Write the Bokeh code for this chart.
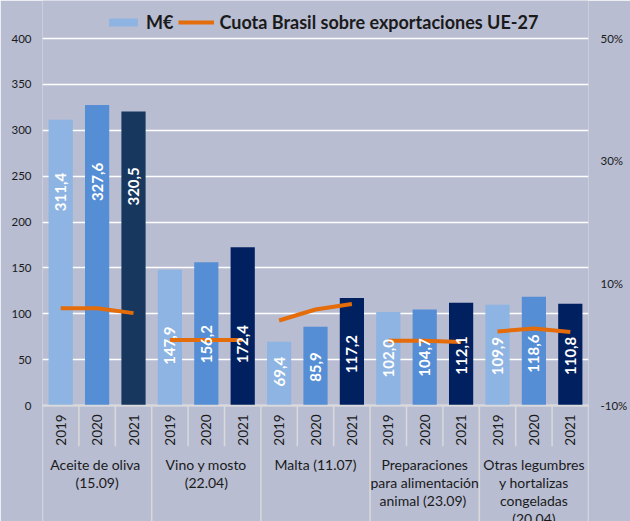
import numpy as np
from bokeh.plotting import figure
from bokeh.models import (ColumnDataSource, FactorRange, Range1d, LinearAxis, FixedTicker,
                          PrintfTickFormatter, Legend, LegendItem)
from bokeh.core.properties import value
from bokeh.embed import file_html
from bokeh.resources import INLINE

# ---------------- data ----------------
grupos = ["Aceite de  oliva\n(15.09)",
          "Vino y mosto\n(22.04)",
          "Malta (11.07)",
          "Preparaciones\npara alimentación\nanimal  (23.09)",
          "Otras legumbres\ny hortalizas\ncongeladas\n(20.04)"]
anios = ["2019", "2020", "2021"]

meur_aceite = [311.4, 327.6, 320.5]
meur_vino = [147.9, 156.2, 172.4]
meur_malta = [69.4, 85.9, 117.2]
meur_preparaciones = [102.0, 104.7, 112.1]
meur_otras = [109.9, 118.6, 110.8]

cuota_aceite = [5.9, 5.9, 5.1]
cuota_vino = [0.7, 0.7, 0.7]
cuota_malta = [3.9, 5.7, 6.6]
cuota_preparaciones = [0.6, 0.6, 0.4]
cuota_otras = [2.1, 2.6, 2.0]

ticks_meur = [0, 50, 100, 150, 200, 250, 300, 350, 400]
ticks_cuota = [-10, 10, 30, 50]

serie_label = "M€"
linea_label = "Cuota Brasil sobre exportaciones UE-27"

# ---------------- styling ----------------
BG = "#b8bdd2"
TXT = "#1a1a1a"
year_colors = ["#8db4e2", "#558ed5", "#002060"]
dark_first = "#17375e"
ORANGE = "#e46c0a"
SEP = "#dadada"
FONT = "Lato"

meur = [meur_aceite, meur_vino, meur_malta, meur_preparaciones, meur_otras]
cuota = [cuota_aceite, cuota_vino, cuota_malta, cuota_preparaciones, cuota_otras]

factors = [(g, a) for g in grupos for a in anios]

# the frame spans the whole height; the value axes cover only part of it
W, H = 630, 521
span_px = 367.0
top_px = 38.0
bot_px = H - top_px - span_px
ymax = 400.0
y_range = Range1d(-ymax * bot_px / span_px, ymax + ymax * top_px / span_px)
pct_range = Range1d(-10 - 60 * bot_px / span_px, 50 + 60 * top_px / span_px)

p = figure(width=W, height=H,
           x_range=FactorRange(factors=factors, range_padding=0, group_padding=0,
                               factor_padding=0, subgroup_padding=0),
           y_range=y_range, x_axis_location=None,
           toolbar_location=None, output_backend="svg",
           min_border_left=42, min_border_right=38, min_border_top=0, min_border_bottom=0,
           background_fill_color=BG, border_fill_color=BG, outline_line_color=None)
p.extra_y_ranges = {"pct": pct_range}

p.xgrid.grid_line_color = None
p.ygrid.grid_line_color = "white"
p.ygrid.grid_line_width = 1.6

ya = p.yaxis[0]
ya.ticker = FixedTicker(ticks=ticks_meur)
ya.axis_line_color = None
ya.major_tick_line_color = None
ya.minor_tick_line_color = None
ya.major_tick_out = 0
ya.major_tick_in = 0
ya.minor_tick_out = 0
ya.major_label_standoff = 11
ya.major_label_text_font = FONT
ya.major_label_text_font_size = "11.5px"
ya.major_label_text_color = TXT

ra = LinearAxis(y_range_name="pct", ticker=FixedTicker(ticks=ticks_cuota),
                formatter=PrintfTickFormatter(format="%d%%"),
                axis_line_color=None, major_tick_line_color=None, minor_tick_line_color=None,
                major_tick_out=0, major_tick_in=0, minor_tick_out=0,
                major_label_standoff=12, major_label_text_font=FONT,
                major_label_text_font_size="11.5px", major_label_text_color=TXT)
p.add_layout(ra, "right")

# bars
xs, vals, cols, lbls, lys = [], [], [], [], []
for gi, g in enumerate(grupos):
    for yi, a in enumerate(anios):
        v = meur[gi][yi]
        xs.append((g, a))
        vals.append(v)
        c = year_colors[yi]
        if yi == 2 and gi == 0:
            c = dark_first
        cols.append(c)
        lbls.append(f"{v:.1f}".replace(".", ","))
        lys.append(v * 0.68 if v > 200 else min(v * 0.3, 46))

src = ColumnDataSource(dict(x=xs, v=vals, color=cols, lbl=lbls, ly=lys))
bars = p.vbar(x="x", top="v", width=0.665, fill_color="color", line_color=None, source=src)

# separators below the axis
bottom = y_range.start
sx0, sy1 = [], []
for gi, g in enumerate(grupos):
    for yi, a in enumerate(anios):
        sx0.append((g, a, -0.5))
        sy1.append(bottom if yi == 0 else -44.4)
sx0.append((grupos[-1], anios[-1], 0.5))
sy1.append(bottom)
p.segment(x0=sx0, x1=sx0, y0=[0] * len(sx0), y1=sy1, line_color=SEP, line_width=1.5)
p.segment(x0=[factors[0] + (-0.5,)], x1=[factors[-1] + (0.5,)], y0=[0], y1=[0],
          line_color=SEP, line_width=1.6)

# line (one segment per group)
lx = [[(g, a) for a in anios] for g in grupos]
ly = [list(c) for c in cuota]
line = p.multi_line(xs=lx, ys=ly, y_range_name="pct", line_color=ORANGE, line_width=4)

# value labels
p.text(x="x", y="ly", text="lbl", source=src, angle=np.pi / 2, text_align="left",
       text_baseline="middle", text_color="white", text_font=value(FONT),
       text_font_style="bold", text_font_size="15px")

# year labels
p.text(x=factors, y=[-26.7] * len(factors), text=[a for g in grupos for a in anios],
       angle=np.pi / 2, text_align="center", text_baseline="middle", text_color=TXT,
       text_font=value(FONT), text_font_size="13.5px")

# group labels
p.text(x=[(g, anios[1]) for g in grupos], y=[-55.5] * len(grupos), text=grupos,
       text_align="center", text_baseline="top", text_color=TXT, text_font=value(FONT),
       text_font_size="14px", text_line_height=1.05)

legend = Legend(items=[LegendItem(label=serie_label, renderers=[bars]),
                       LegendItem(label=linea_label, renderers=[line])],
                location=(63, H - 33), orientation="horizontal", padding=0, margin=0,
                spacing=5, label_standoff=5, glyph_width=36, glyph_height=10,
                label_height=20, background_fill_alpha=0, border_line_color=None,
                label_text_font=FONT, label_text_font_style="bold",
                label_text_font_size="18px", label_text_color=TXT)
p.add_layout(legend)

open("out.html", "w").write(file_html(p, INLINE))
